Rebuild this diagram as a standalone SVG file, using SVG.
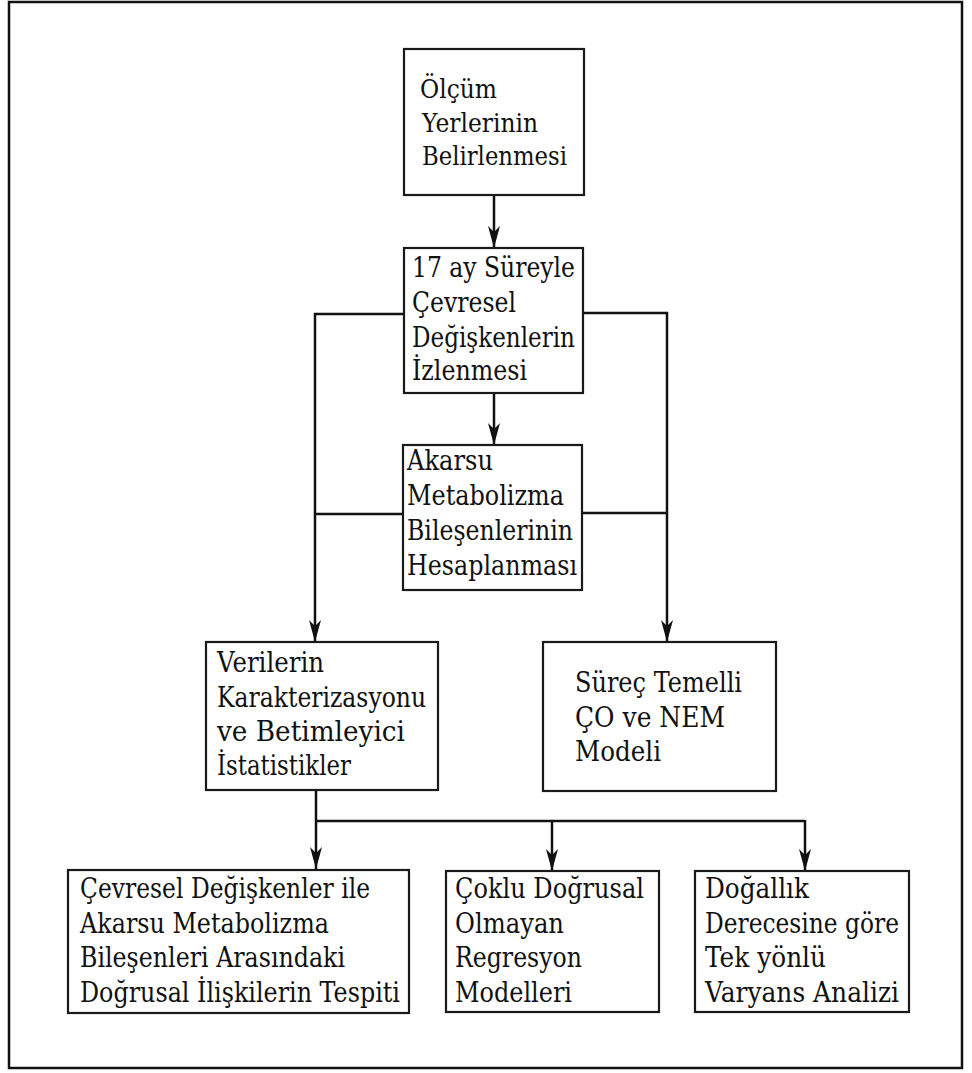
<svg xmlns="http://www.w3.org/2000/svg" width="972" height="1073" viewBox="0 0 972 1073">
<style>
.box{fill:#fff;stroke:#1a1a1a;stroke-width:2.2}
text{font-family:'DejaVu Serif','Liberation Serif',serif;font-size:27px;fill:#111}
.s{font-size:26px}
.c{fill:none;stroke:#111;stroke-width:2.5}
</style>
<defs>
<marker id="ah" viewBox="0 0 22 12" refX="22" refY="6" markerWidth="22" markerHeight="12" markerUnits="userSpaceOnUse" orient="auto">
<path d="M0,0 L22,6 L0,12 L6,6 Z" fill="#111"/>
</marker>
</defs>
<rect x="0" y="0" width="972" height="1073" fill="#fff"/>
<rect x="9" y="2" width="953" height="1066" fill="none" stroke="#111" stroke-width="2.5"/>
<g id="connectors">
<line class="c" x1="494" y1="195" x2="494" y2="248" marker-end="url(#ah)"/>
<line class="c" x1="494" y1="393" x2="494" y2="445" marker-end="url(#ah)"/>
<polyline class="c" points="404,314 315,314 315,642" marker-end="url(#ah)"/>
<polyline class="c" points="583,313 667,313 667,642" marker-end="url(#ah)"/>
<line class="c" x1="403" y1="514" x2="315" y2="514"/>
<line class="c" x1="582" y1="513" x2="667" y2="513"/>
<line class="c" x1="316" y1="790" x2="316" y2="869" marker-end="url(#ah)"/>
<line class="c" x1="316" y1="821" x2="805" y2="821"/>
<line class="c" x1="552" y1="821" x2="552" y2="871" marker-end="url(#ah)"/>
<line class="c" x1="805" y1="820" x2="805" y2="871" marker-end="url(#ah)"/>
</g>
<g id="n1">
<rect class="box" x="404" y="49" width="180" height="146"/>
<text class="s" x="420" y="98" textLength="77" lengthAdjust="spacingAndGlyphs">Ölçüm</text>
<text class="s" x="422" y="132" textLength="116" lengthAdjust="spacingAndGlyphs">Yerlerinin</text>
<text class="s" x="422" y="165" textLength="145" lengthAdjust="spacingAndGlyphs">Belirlenmesi</text>
</g>
<g id="n2">
<rect class="box" x="404" y="248" width="179" height="145"/>
<text x="412" y="277" textLength="163" lengthAdjust="spacingAndGlyphs">17 ay Süreyle</text>
<text x="412" y="312" textLength="104" lengthAdjust="spacingAndGlyphs">Çevresel</text>
<text x="412" y="347" textLength="163" lengthAdjust="spacingAndGlyphs">Değişkenlerin</text>
<text x="412" y="380" textLength="115" lengthAdjust="spacingAndGlyphs">İzlenmesi</text>
</g>
<g id="n3">
<rect class="box" x="403" y="445" width="179" height="145"/>
<text x="407" y="470" textLength="86" lengthAdjust="spacingAndGlyphs">Akarsu</text>
<text x="407" y="505" textLength="157" lengthAdjust="spacingAndGlyphs">Metabolizma</text>
<text x="407" y="540" textLength="166" lengthAdjust="spacingAndGlyphs">Bileşenlerinin</text>
<text x="407" y="575" textLength="170" lengthAdjust="spacingAndGlyphs">Hesaplanması</text>
</g>
<g id="n4">
<rect class="box" x="206" y="642" width="232" height="148"/>
<text x="217" y="672" textLength="107" lengthAdjust="spacingAndGlyphs">Verilerin</text>
<text x="217" y="707" textLength="209" lengthAdjust="spacingAndGlyphs">Karakterizasyonu</text>
<text x="217" y="741" textLength="188" lengthAdjust="spacingAndGlyphs">ve Betimleyici</text>
<text x="217" y="775" textLength="134" lengthAdjust="spacingAndGlyphs">İstatistikler</text>
</g>
<g id="n5">
<rect class="box" x="543" y="642" width="233" height="149"/>
<text x="575" y="692" textLength="167" lengthAdjust="spacingAndGlyphs">Süreç Temelli</text>
<text x="575" y="727" textLength="150" lengthAdjust="spacingAndGlyphs">ÇO ve NEM</text>
<text x="575" y="761" textLength="86" lengthAdjust="spacingAndGlyphs">Modeli</text>
</g>
<g id="n6">
<rect class="box" x="68" y="870" width="341" height="143"/>
<text x="80" y="898" textLength="290" lengthAdjust="spacingAndGlyphs">Çevresel Değişkenler ile</text>
<text x="80" y="933" textLength="249" lengthAdjust="spacingAndGlyphs">Akarsu Metabolizma</text>
<text x="80" y="967" textLength="265" lengthAdjust="spacingAndGlyphs">Bileşenleri Arasındaki</text>
<text x="80" y="1002" textLength="320" lengthAdjust="spacingAndGlyphs">Doğrusal İlişkilerin Tespiti</text>
</g>
<g id="n7">
<rect class="box" x="446" y="871" width="213" height="141"/>
<text x="455" y="898" textLength="189" lengthAdjust="spacingAndGlyphs">Çoklu Doğrusal</text>
<text x="455" y="933" textLength="109" lengthAdjust="spacingAndGlyphs">Olmayan</text>
<text x="455" y="967" textLength="127" lengthAdjust="spacingAndGlyphs">Regresyon</text>
<text x="455" y="1002" textLength="117" lengthAdjust="spacingAndGlyphs">Modelleri</text>
</g>
<g id="n8">
<rect class="box" x="695" y="871" width="214" height="141"/>
<text x="705" y="898" textLength="104" lengthAdjust="spacingAndGlyphs">Doğallık</text>
<text x="705" y="933" textLength="194" lengthAdjust="spacingAndGlyphs">Derecesine göre</text>
<text x="705" y="967" textLength="121" lengthAdjust="spacingAndGlyphs">Tek yönlü</text>
<text x="705" y="1002" textLength="194" lengthAdjust="spacingAndGlyphs">Varyans Analizi</text>
</g>
</svg>
